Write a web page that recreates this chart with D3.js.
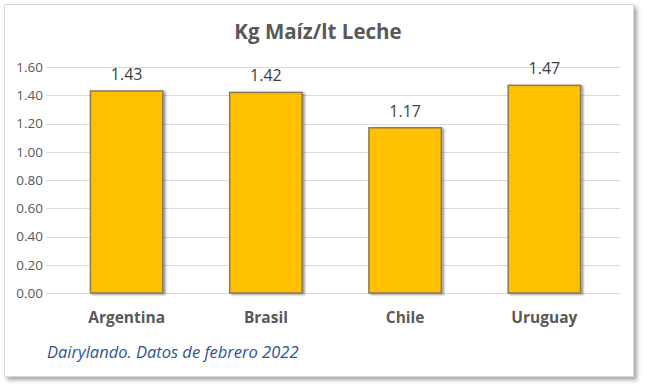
<!DOCTYPE html>
<html>
<head>
<meta charset="utf-8">
<script src="https://cdn.jsdelivr.net/npm/d3@7"></script>
<style>
  body { margin: 0; background: #fff; }
  text { font-family: "Open Sans", "Noto Sans", sans-serif; }
</style>
</head>
<body>
<script>
var countries = ["Argentina", "Brasil", "Chile", "Uruguay"];
var kgPerLitre = [1.43, 1.42, 1.17, 1.47];
var yTicks = [0, 0.2, 0.4, 0.6, 0.8, 1.0, 1.2, 1.4, 1.6];
var chartTitle = "Kg Maíz/lt Leche";
var sourceNote = "Dairylando. Datos de febrero 2022";

var W = 647, H = 391;

var svg = d3.select("body").append("svg")
    .attr("width", W)
    .attr("height", H);

var defs = svg.append("defs");
var blur = defs.append("filter").attr("id", "shadow")
    .attr("x", "-10%").attr("y", "-10%").attr("width", "130%").attr("height", "130%");
blur.append("feDropShadow")
    .attr("dx", 3).attr("dy", 3).attr("stdDeviation", 2)
    .attr("flood-color", "#000").attr("flood-opacity", 0.35);

var barShadow = defs.append("filter").attr("id", "barshadow")
    .attr("x", "-10%").attr("y", "-10%").attr("width", "130%").attr("height", "130%");
barShadow.append("feDropShadow")
    .attr("dx", 2).attr("dy", 1).attr("stdDeviation", 1)
    .attr("flood-color", "#000").attr("flood-opacity", 0.4);

//FRAME
svg.append("rect")
    .attr("x", 4.5).attr("y", 4.5)
    .attr("width", 629).attr("height", 372)
    .style("fill", "#fff")
    .style("stroke", "#d9d9d9")
    .style("stroke-width", 1)
    .attr("filter", "url(#shadow)");

var x = d3.scaleBand()
    .domain(countries)
    .range([57, 614])
    .paddingInner(0.48)
    .paddingOuter(0.24);

var y = d3.scaleLinear()
    .domain([0, 1.6])
    .range([293, 67]);

//GRID
svg.append("g").selectAll("line")
    .data(yTicks)
    .enter()
    .append("line")
    .attr("x1", 46).attr("x2", 620)
    .attr("y1", function(d){ return Math.round(y(d)) + 0.5 })
    .attr("y2", function(d){ return Math.round(y(d)) + 0.5 })
    .style("stroke", "#d9d9d9")
    .style("stroke-width", 1);

//Y AXIS LABELS
var yAxis = d3.axisLeft(y)
    .tickValues(yTicks)
    .tickFormat(d3.format(".2f"))
    .tickSize(0)
    .tickPadding(0);

var gy = svg.append("g")
    .attr("transform", "translate(43,0)")
    .call(yAxis);
gy.select(".domain").remove();
gy.selectAll("text")
    .attr("font-family", null)
    .style("font-size", "13.5px")
    .style("fill", "#595959");

//BARS
svg.append("g").selectAll("rect")
    .data(kgPerLitre)
    .enter()
    .append("rect")
    .attr("x", function(d, i){ return x(countries[i]) })
    .attr("y", function(d){ return y(d) })
    .attr("width", x.bandwidth())
    .attr("height", function(d){ return y(0) - y(d) })
    .style("fill", "#ffc000")
    .style("stroke", "#8a7a55")
    .style("stroke-width", 1.5)
    .attr("filter", "url(#barshadow)");

//VALUE LABELS
svg.append("g").selectAll("text")
    .data(kgPerLitre)
    .enter()
    .append("text")
    .attr("x", function(d, i){ return x(countries[i]) + x.bandwidth() / 2 })
    .attr("y", function(d){ return y(d) - 11 })
    .attr("text-anchor", "middle")
    .style("font-size", "16px")
    .style("fill", "#404040")
    .text(function(d){ return d.toFixed(2) });

//X AXIS LABELS
var xAxis = d3.axisBottom(x).tickSize(0).tickPadding(0);
var gx = svg.append("g")
    .attr("transform", "translate(0,323)")
    .call(xAxis);
gx.select(".domain").remove();
gx.selectAll("text")
    .attr("dy", 0)
    .attr("font-family", null)
    .style("font-size", "15.5px")
    .style("font-weight", "bold")
    .style("fill", "#595959");

//TITLE
svg.append("text")
    .attr("x", 318).attr("y", 39)
    .attr("text-anchor", "middle")
    .style("font-size", "20.5px")
    .style("font-weight", "bold")
    .style("fill", "#595959")
    .text(chartTitle);

//SOURCE NOTE
svg.append("text")
    .attr("x", 47).attr("y", 358)
    .style("font-size", "16.5px")
    .style("font-style", "italic")
    .style("fill", "#2f5597")
    .text(sourceNote);
</script>
</body>
</html>
